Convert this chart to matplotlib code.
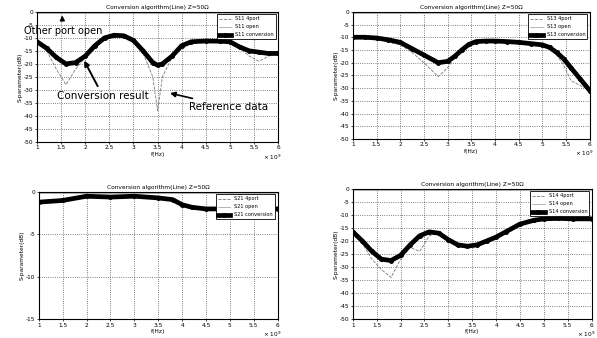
import matplotlib
matplotlib.use("Agg")
import matplotlib.pyplot as plt
import numpy as np

# ---------------- data (frequency in GHz, values in dB) ----------------
titles = ["Conversion algorithm(Line) Z=50\u03a9",
          "Conversion algorithm(Line) Z=50\u03a9",
          "Conversion algorithm(Line) Z=50\u03a9",
          "Conversion algorithm(Line) Z=50\u03a9"]
legend_tl = ["S11 4port", "S11 open", "S11 conversion"]
legend_tr = ["S13 4port", "S13 open", "S13 conversion"]
legend_bl = ["S21 4port", "S21 open", "S21 conversion"]
legend_br = ["S14 4port", "S14 open", "S14 conversion"]
xticks = [1, 1.5, 2, 2.5, 3, 3.5, 4, 4.5, 5, 5.5, 6]
xticklabels = ["1", "1.5", "2", "2.5", "3", "3.5", "4", "4.5", "5", "5.5", "6"]

# top-left (S11)
f_tl = [1.0, 1.2, 1.4, 1.6, 1.8, 2.0, 2.2, 2.4, 2.6, 2.8, 3.0, 3.2, 3.4, 3.5, 3.6, 3.8, 4.0, 4.2,
        4.5, 4.8, 5.0, 5.2, 5.4, 5.6, 5.8, 6.0]
conv_tl = [-11.5, -14.0, -17.5, -20.0, -19.5, -17.0, -13.0, -10.0, -9.0, -9.2, -11.0, -15.0,
           -19.5, -20.5, -20.0, -17.0, -13.0, -11.5, -11.2, -11.3, -11.5, -13.5, -15.0, -15.5,
           -16.0, -16.0]
ref_tl = [-11.5, -15.0, -22.0, -28.0, -22.0, -17.5, -13.0, -10.0, -9.0, -9.5, -11.5, -16.0,
          -25.0, -38.0, -25.0, -17.5, -13.0, -11.5, -11.2, -11.3, -11.5, -14.0, -17.0, -19.0,
          -17.0, -16.0]
open_tl = [-0.3] * len(f_tl)

# top-right (S13)
f_tr = [1.0, 1.25, 1.5, 1.75, 2.0, 2.25, 2.5, 2.8, 3.0, 3.15, 3.3, 3.45, 3.6, 3.8, 4.0, 4.25,
        4.5, 4.75, 5.0, 5.15, 5.3, 5.45, 5.6, 5.8, 6.0]
conv_tr = [-10.0, -10.0, -10.3, -11.0, -12.0, -14.5, -17.0, -20.0, -19.5, -17.5, -15.0, -12.8,
           -11.7, -11.5, -11.5, -11.7, -12.0, -12.5, -13.0, -14.0, -16.0, -18.5, -22.0, -26.5,
           -31.0]
ref_tr = [-10.0, -10.0, -10.5, -12.0, -13.0, -16.0, -20.0, -25.5, -22.0, -18.0, -15.0, -12.8,
          -11.7, -11.5, -11.5, -11.7, -12.0, -12.5, -13.0, -14.5, -17.0, -21.0, -27.0, -29.0,
          -31.0]
open_tr = [-0.3] * len(f_tr)

# bottom-left (S21)
f_bl = [1.0, 1.5, 2.0, 2.5, 3.0, 3.5, 3.8, 4.0, 4.2, 4.5, 5.0, 5.5, 6.0]
conv_bl = [-1.2, -1.0, -0.5, -0.6, -0.5, -0.7, -0.9, -1.5, -1.8, -2.0, -2.0, -2.0, -2.0]
ref_bl = [-1.2, -1.1, -0.6, -0.6, -0.5, -0.7, -1.0, -1.6, -1.9, -2.1, -2.1, -2.1, -2.1]
open_bl = [-0.1] * len(f_bl)

# bottom-right (S14)
f_br = [1.0, 1.2, 1.4, 1.6, 1.8, 2.0, 2.2, 2.4, 2.6, 2.8, 3.0, 3.2, 3.4, 3.6, 3.8, 4.0, 4.2,
        4.5, 4.8, 5.0, 5.3, 5.6, 6.0]
conv_br = [-16.5, -20.0, -24.0, -27.0, -27.5, -25.5, -21.5, -18.0, -16.5, -17.0, -19.5, -21.5,
           -22.0, -21.5, -20.0, -18.5, -16.5, -13.5, -12.0, -11.5, -11.3, -11.5, -11.5]
ref_br = [-16.5, -21.0, -27.0, -31.0, -34.0, -27.0, -22.5, -24.0, -18.0, -17.0, -19.5, -21.5,
          -22.0, -21.5, -20.0, -18.5, -16.5, -13.5, -12.0, -11.5, -11.3, -11.5, -11.5]
open_br = [-0.3] * len(f_br)

panels = [
    (f_tl, ref_tl, open_tl, conv_tl, legend_tl, titles[0], (0, -50), 5,
     [0.062, 0.580, 0.404, 0.385]),
    (f_tr, ref_tr, open_tr, conv_tr, legend_tr, titles[1], (0, -50), 5,
     [0.591, 0.589, 0.397, 0.376]),
    (f_bl, ref_bl, open_bl, conv_bl, legend_bl, titles[2], (0, -15), 5,
     [0.065, 0.056, 0.400, 0.376]),
    (f_br, ref_br, open_br, conv_br, legend_br, titles[3], (0, -50), 5,
     [0.591, 0.056, 0.400, 0.385]),
]

fs = 4.2
fig = plt.figure(figsize=(5.97, 3.38), dpi=100)
axes = []
for (f, ref, op, conv, leg, title, ylim, ystep, pos) in panels:
    ax = fig.add_axes(pos)
    ax.plot(f, ref, color="#777777", lw=0.6, ls="--", label=leg[0])
    ax.plot(f, op, color="#999999", lw=0.5, ls="-", label=leg[1])
    ax.plot(f, conv, color="black", lw=3.4, label=leg[2],
            marker="o", markersize=2.5, markevery=1)
    ax.set_xlim(1, 6)
    ax.set_ylim(ylim[1], ylim[0])
    ax.set_xticks(xticks)
    ax.set_xticklabels(xticklabels, fontsize=fs)
    yt = np.arange(ylim[1], ylim[0] + 0.01, ystep)
    ax.set_yticks(yt)
    ax.set_yticklabels([f"{int(v)}" for v in yt], fontsize=fs)
    ax.tick_params(length=1.5, width=0.5, pad=1)
    ax.grid(True, ls=":", color="#555555", lw=0.6)
    for s in ax.spines.values():
        s.set_linewidth(0.8)
    ax.set_title(title, fontsize=fs, pad=2)
    ax.set_xlabel("f(Hz)", fontsize=fs, labelpad=1)
    ax.set_ylabel("S-parameter(dB)", fontsize=fs, labelpad=1)
    ax.text(1.015, -0.08, "\u00d7 10$^9$", transform=ax.transAxes, fontsize=fs,
            ha="right", va="top")
    lg = ax.legend(loc="upper right", fontsize=3.6, frameon=True, fancybox=False,
                   edgecolor="black", framealpha=1, borderpad=0.4, labelspacing=0.6,
                   handlelength=2.5)
    lg.get_frame().set_linewidth(0.6)
    axes.append(ax)

# annotations on the top-left panel
ax = axes[0]
ax.annotate("Other port open", xy=(1.52, -0.3), xytext=(0.72, -7.5),
            fontsize=7, ha="left", va="center", annotation_clip=False,
            arrowprops=dict(arrowstyle="-|>", color="black", lw=1.0))
ax.annotate("Conversion result", xy=(1.95, -17.8), xytext=(1.42, -32.5),
            fontsize=7.5, ha="left", va="center",
            arrowprops=dict(arrowstyle="-|>", color="black", lw=1.4))
ax.annotate("Reference data", xy=(3.7, -31.0), xytext=(4.15, -36.5),
            fontsize=7.5, ha="left", va="center", annotation_clip=False,
            arrowprops=dict(arrowstyle="-|>", color="black", lw=1.2))

fig.savefig("out.png", dpi=100)
